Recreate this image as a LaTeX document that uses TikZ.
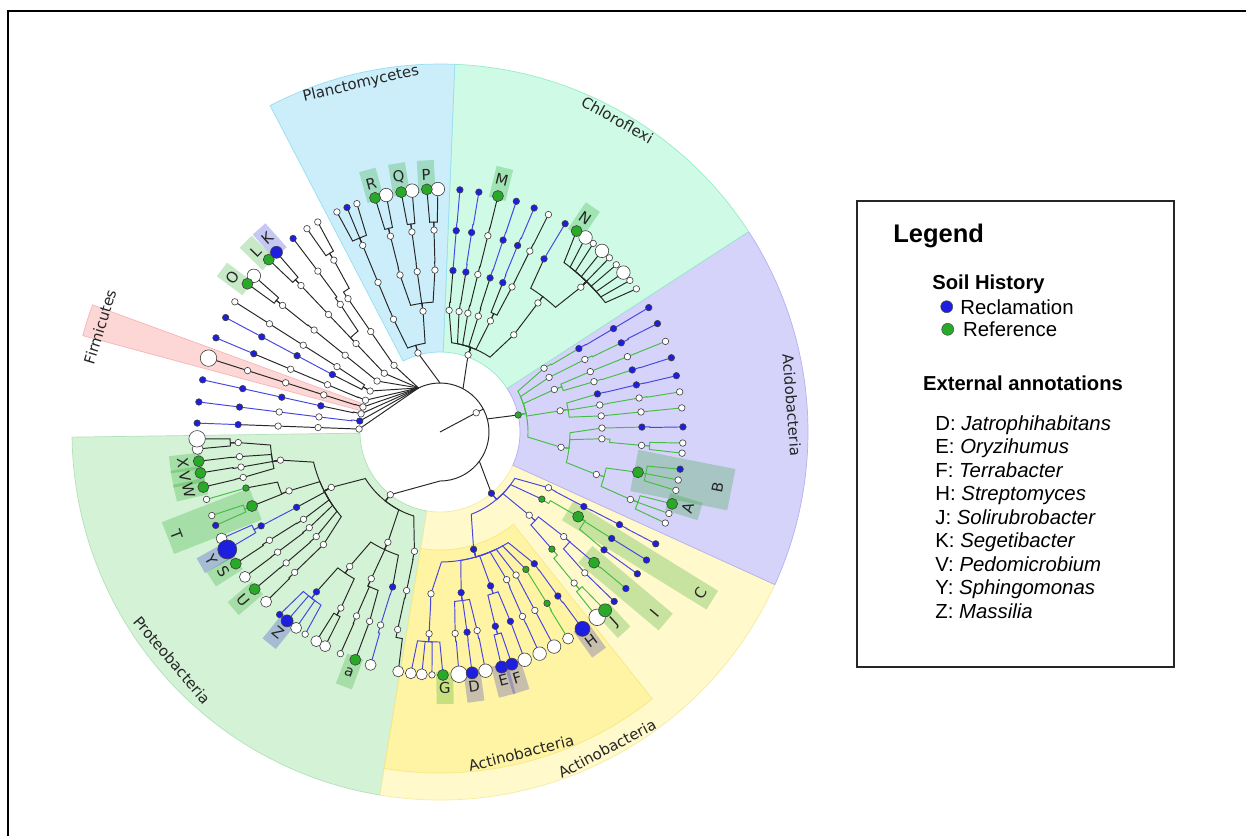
\documentclass[tikz,border=0pt]{standalone}
\usepackage{fontspec}
\setmainfont{Liberation Sans}
\newfontfamily\treefont{DejaVu Sans}

\definecolor{planc}{RGB}{204,238,251}
\definecolor{plancd}{RGB}{150,222,242}
\definecolor{chlor}{RGB}{206,250,230}
\definecolor{chlord}{RGB}{150,236,205}
\definecolor{acido}{RGB}{214,211,250}
\definecolor{acidod}{RGB}{180,176,242}
\definecolor{actout}{RGB}{255,249,204}
\definecolor{actoutd}{RGB}{246,236,160}
\definecolor{actin}{RGB}{255,244,163}
\definecolor{actind}{RGB}{246,232,130}
\definecolor{prot}{RGB}{212,242,214}
\definecolor{protd}{RGB}{178,226,184}
\definecolor{firm}{RGB}{253,214,214}
\definecolor{firmd}{RGB}{246,182,182}
\definecolor{mblue}{RGB}{30,30,225}
\definecolor{mgreen}{RGB}{40,170,40}
\definecolor{lblue}{RGB}{70,70,225}
\definecolor{lgreen}{RGB}{70,190,70}

% annular wedge: start angle, end angle, inner r, outer r, style
\newcommand{\sector}[5]{\path[#5] (#1:#3) arc[start angle=#1, end angle=#2, radius=#3]
  -- (#2:#4) arc[start angle=#2, end angle=#1, radius=#4] -- cycle;}
% branch: parent angle, parent r, child angle, child r, style
\newcommand{\edge}[5]{\draw[#5] (#1:#2) -- (#1:{#2+8})
  arc[start angle={#1}, end angle={#1+0.8*((#3)-(#1))}, radius={#2+8}] -- (#3:#4);}
% annotation strip: angle, r from, r to, half width, style
\newcommand{\tagbox}[5]{\begin{scope}[rotate=#1]\path[#5] (#2,-#4) rectangle (#3,#4);\end{scope}}

\begin{document}
\begin{tikzpicture}[x=0.02cm, y=-0.02cm,
    kline/.style={draw=black!85, line width=0.55pt},
    bline/.style={draw=lblue, line width=0.55pt},
    gline/.style={draw=lgreen, line width=0.55pt},
    wn/.style={circle, draw=black!75, fill=white, line width=0.35pt, inner sep=0pt, minimum size=0.13cm},
    bn/.style={wn, fill=mblue},
    gn/.style={wn, fill=mgreen},
    Wm/.style={wn, minimum size=0.22cm},
    Wb/.style={wn, minimum size=0.27cm},
    WL/.style={wn, minimum size=0.33cm},
    Gb/.style={gn, minimum size=0.22cm},
    GL/.style={gn, minimum size=0.26cm},
    Bb/.style={bn, minimum size=0.24cm},
    BL/.style={bn, minimum size=0.30cm},
    BY/.style={bn, minimum size=0.38cm},
    gbox/.style={fill=green!60!black, fill opacity=0.22},
    bbox/.style={fill=blue!80!black, fill opacity=0.22},
    tag/.style={font=\treefont\fontsize{8.5}{10}\selectfont, inner sep=0pt, text=black!85},
    clade/.style={font=\treefont\fontsize{8.5}{10}\selectfont, inner sep=0pt, text=black!85},
    legtitle/.style={font=\fontsize{14.5}{17}\selectfont\bfseries, inner sep=0pt, anchor=base west},
    leghead/.style={font=\fontsize{11.5}{14}\selectfont\bfseries, inner sep=0pt, anchor=base west},
    legitem/.style={font=\fontsize{11.6}{14}\selectfont, inner sep=0pt, anchor=base west},
    legdot/.style={circle, draw=black!70, line width=0.3pt, inner sep=0pt, minimum size=0.24cm}
]
\useasboundingbox (0,0) rectangle (1246,836);

% page frame
\draw[line width=1.1pt] (8,836) -- (8,11) -- (1246,11);

\begin{scope}[shift={(440,432)}, y=0.02cm]

% clade backgrounds
\sector{180.8}{260.6}{80}{368}{fill=prot, draw=protd}
\sector{-99.4}{-24.5}{80}{368}{fill=actout, draw=actoutd}
\sector{-99.4}{-51.5}{118}{341}{fill=actin, draw=actind}
\sector{-24.5}{33}{80}{368}{fill=acido, draw=acidod}
\sector{33}{87.7}{80}{368}{fill=chlor, draw=chlord}
\sector{87.7}{117.5}{80}{368}{fill=planc, draw=plancd}
\sector{159.9}{164.9}{80}{370}{fill=firm, draw=firmd}

% external annotation strips
\foreach \a/\ra/\rb/\hw/\rl/\t in {105.5/240/272/8.5/258/R, 99.2/240/272/8.5/258/Q, 93.1/240/272/8.5/258/P,
    76.2/240/272/8.5/260/M, 55.8/240/272/8.5/258/N, 135.6/240/272/8.5/258/L, 143.3/240/272/8.5/259/O,
    186.9/240/272/8.5/259/X, 190/240/272/8.5/259/V, 193/240/272/8.5/258/W, 201.3/198/292/17/283/T,
    212.8/240/272/8.5/258/S, 220.5/240/272/8.5/259/U, 249.3/240/272/8.5/257/a, -88.9/240/272/8.5/256/G,
    -47.4/240/272/8.5/258/J, -40.1/190/295/11/281/I, -31.7/150/320/11/306/C, -17/238/272/9/259/A,
    -11.2/198/297/21/283/B} {
  \tagbox{\a}{\ra}{\rb}{\hw}{gbox}
  \pgfmathsetmacro\rot{ifthenelse(sin(\a)>0,\a-90,\a+90)}
  \node[tag, rotate=\rot] (tag\t) at (\a:\rl) {\t};
}
\foreach \a/\ra/\rb/\hw/\rl/\t in {131.7/240/272/8.5/260/K, 209.2/240/274/8.5/262/Y, 231.1/240/272/8.5/258/Z,
    -82.4/240/272/8.5/257/D, -75.7/240/272/8.5/256/E, -72.6/240/272/8.5/258/F, -54.2/240/272/8.5/258/H} {
  \tagbox{\a}{\ra}{\rb}{\hw}{bbox}
  \pgfmathsetmacro\rot{ifthenelse(sin(\a)>0,\a-90,\a+90)}
  \node[tag, rotate=\rot] (tag\t) at (\a:\rl) {\t};
}

% backbone
\draw[kline] (0,0) -- (28:49);
\draw[kline] (116:49) arc[start angle=116, end angle=-90, radius=49] -- (231.6:80);
\draw[kline] (90:49) -- (105.6:82);
\draw[kline] (62:49) -- (70:82);
\draw[kline] (15.5:49) -- (12.3:80);
\draw[kline] (-36.6:49) -- (-50:80);
\foreach \b in {124.6,133.5,141,149.6,156.9,162,167,172.2,177.9}
  \draw[kline] (116:49) -- (\b:81);

% black branches
\foreach \pa/\pr/\ca/\cr in {
  105.6/82/112.4/122, 105.6/82/98/122, 112.4/122/112.5/162, 112.5/162/112.5/202, 112.5/202/115.1/243,
  112.5/202/112.5/243, 112.5/202/110/243, 98/122/104.3/162, 98/122/98.1/162, 98/122/91.8/162,
  104.3/162/104.2/202, 104.2/202/105.5/243, 104.2/202/102.8/243, 98.1/162/98/202, 98/202/99.2/243,
  98/202/96.6/243, 91.8/162/91.7/202, 91.7/202/93.1/243, 91.7/202/90.5/243,
  70/82/85.7/122, 70/82/81/122, 70/82/76.8/122, 70/82/71.7/122, 70/82/65.6/122, 70/82/52.8/122,
  85.7/122/85.4/162, 81/122/80.8/162, 76.8/122/76.5/162, 76.5/162/76.3/202, 76.3/202/76.2/243,
  71.7/122/72/162, 65.6/122/67.2/162, 65.6/122/63.6/162, 63.6/162/63.6/202, 63.6/202/63.5/243,
  52.8/122/52.8/162, 52.8/162/59/202, 52.8/162/45.8/202, 45.8/202/55.8/243, 45.8/202/53.2/243,
  45.8/202/50.9/243, 45.8/202/48.2/243, 45.8/202/45.8/243, 45.8/202/43.5/243, 45.8/202/41/243,
  45.8/202/38.6/243, 45.8/202/36.1/243,
  231.6/80/207/122, 231.6/80/244.7/122, 231.6/80/257.9/122, 207/122/190/162, 207/122/201.3/162,
  207/122/207.7/162, 207/122/212.6/162, 207/122/216.2/162, 207/122/220.2/162, 207/122/224/162,
  190/162/183/202, 190/162/187/202, 190/162/190/202, 190/162/193/202, 183/202/181.6/243,
  183/202/184/243, 187/202/186.9/243, 190/202/189.7/243, 193/202/193.1/243, 201.3/162/196.1/202,
  201.3/162/201.5/202, 212.6/162/212.4/202, 212.4/202/212.8/243, 216.2/162/216.5/202,
  216.5/202/216.6/243, 220.2/162/220.4/202, 220.4/202/220.3/243, 224/162/224/202, 224/202/224.3/243,
  244.7/122/236.1/162, 244.7/122/244.9/162, 244.7/122/253/162, 236.1/162/232.3/202,
  236.1/162/240.6/202, 240.6/202/239.4/243, 240.6/202/241.8/243, 244.9/162/245.6/202,
  244.9/162/249.6/202, 245.6/202/245.8/243, 249.6/202/249.6/243, 257.9/122/258.1/162,
  258.1/162/257.9/202, 257.9/202/260.1/243,
  124.6/81/124.6/122, 124.6/122/124.6/162, 124.6/162/121.7/202, 121.7/202/120.2/243,
  121.7/202/123.2/243, 133.5/81/133.5/122, 133.5/122/128/162, 133.5/122/133.5/162, 128/162/127.2/202,
  127.2/202/127.2/243, 133.5/162/133.5/202, 133.5/202/132.3/243, 133.5/202/134.8/243,
  141/81/141/122, 141/122/141/162, 141/162/141.2/202, 141.2/202/140/243, 141.2/202/142.4/243,
  149.6/81/147.6/122, 149.6/81/151.9/122, 147.6/122/147.6/162, 147.6/162/147.6/202,
  147.6/202/147.6/243, 156.9/81/157.2/122, 157.2/122/157.2/162, 157.2/162/157.2/202,
  162/81/162.3/122, 162.3/122/162.3/162, 162.3/162/162.3/202, 162.3/202/162.3/243,
  167/81/167.6/122, 177.9/81/177.9/122, 177.9/122/177.9/162, 177.9/162/177.9/202}
  {\edge{\pa}{\pr}{\ca}{\cr}{kline}}

% blue branches
\foreach \pa/\pr/\ca/\cr in {
  85.4/162/85.4/202, 85.4/202/85.3/243, 80.8/162/81/202, 81/202/80.8/243, 72/162/71.8/202,
  71.8/202/71.7/243, 67.2/162/67.4/202, 67.4/202/67.2/243, 59/202/59/243,
  31/162/30.8/202, 30.8/202/30.8/243, 26.2/202/26.5/243, 17.9/202/17.8/243, 13.6/162/13.5/202,
  13.5/202/13.4/243, 1.4/202/1.2/243,
  -50/80/-74/122, -50/80/-43/122, -50/80/-33.4/122, -50/80/-27.2/122, -27.2/122/-27.4/162,
  -27.4/162/-27.3/202, -27.3/202/-27.4/243, -43/122/-40.2/162, -43/122/-46.3/162,
  -40.2/162/-40.3/202, -40.2/162/-44.2/202, -44.2/202/-44.2/243, -31.8/202/-31.8/243,
  -35.7/202/-35.7/243, -74/122/-93.2/162, -74/122/-82.5/162, -74/122/-71.8/162, -74/122/-65.7/162,
  -74/122/-62/162, -74/122/-58/162, -74/122/-54.4/162, -93.2/162/-93.1/202, -93.1/202/-96.9/243,
  -93.1/202/-94.3/243, -93.1/202/-91.9/243, -93.1/202/-89.3/243, -82.5/162/-85.7/202,
  -82.5/162/-82.3/202, -82.5/162/-79.4/202, -85.7/202/-85.5/243, -82.3/202/-82.4/243,
  -79.4/202/-79.2/243, -71.8/162/-74.1/202, -71.8/162/-69.6/202, -74.1/202/-75.3/243,
  -74.1/202/-72.8/243, -69.6/202/-69.6/243, -65.7/162/-65.9/202, -65.9/202/-65.8/243,
  -62/162/-62/202, -62/202/-62/243, -54.4/162/-54.3/202, -54.3/202/-54.1/243,
  207.7/162/207.7/202, 207.7/202/206/243, 207.7/202/208.9/243, 232.3/202/228.7/243,
  232.3/202/231/243, 232.3/202/233.7/243, 232.3/202/236.3/243, 253/162/252.9/202,
  252.9/202/253.4/243,
  151.9/122/151.9/162, 151.9/162/151.9/202, 151.9/202/151.9/243, 157.2/202/157.2/243,
  167.6/122/167.6/162, 167.6/162/167.6/202, 167.6/202/167.6/243, 172.2/81/172.9/122,
  172.9/122/172.9/162, 172.9/162/172.9/202, 172.9/202/172.9/243, 177.9/202/177.9/243}
  {\edge{\pa}{\pr}{\ca}{\cr}{bline}}

% green branches
\foreach \pa/\pr/\ca/\cr in {
  12.3/80/31.5/122, 12.3/80/26.6/122, 12.3/80/20.4/122, 12.3/80/10/122, 12.3/80/-7.2/122,
  31.5/122/31/162, 26.6/122/26.6/162, 26.6/162/26.2/202, 20.4/122/21.9/162, 20.4/122/18.1/162,
  21.9/162/21.9/202, 21.9/202/21.9/243, 18.1/162/17.9/202, 10/122/13.6/162, 10/122/9.6/162,
  10/122/5.7/162, 9.6/162/9.7/202, 9.7/202/9.5/243, 5.7/162/5.7/202, 5.7/202/5.7/243,
  -7.2/122/1.4/162, -7.2/122/-2.4/162, -7.2/122/-15.2/162, 1.4/162/1.4/202, -2.4/162/-3.8/202,
  -3.8/202/-2.6/243, -3.8/202/-5/243, -15.2/162/-11.5/202, -15.2/162/-19.5/202,
  -11.5/202/-8.8/243, -11.5/202/-11.4/243, -11.5/202/-13.9/243, -19.5/202/-17.2/243,
  -19.5/202/-19.6/243, -19.5/202/-22/243,
  -33.4/122/-31.5/162, -31.5/162/-31.8/202, -31.5/162/-35.7/202, -40.3/202/-40.1/243,
  -46.3/162/-48.4/202, -48.4/202/-47.2/243, -48.4/202/-49.7/243, -58/162/-58/202,
  -58/202/-58.2/243,
  196.1/202/196.1/243, 201.5/202/200.1/243, 201.5/202/202.6/243}
  {\edge{\pa}{\pr}{\ca}{\cr}{gline}}

% node markers
\foreach \a/\r [count=\i] in {28/41, 105.6/82, 70/82, 231.6/80, 124.6/81, 133.5/81, 141/81, 149.6/81,
  156.9/81, 162/81, 167/81, 177.9/81,
  112.4/122, 112.5/162, 112.5/202, 98/122, 104.3/162, 98.1/162, 91.8/162, 104.2/202, 98/202,
  91.7/202, 115.1/243, 110/243,
  85.7/122, 81/122, 76.8/122, 71.7/122, 65.6/122, 52.8/122, 76.5/162, 63.6/162, 52.8/162,
  76.3/202, 63.6/202, 45.8/202, 63.5/243, 50.9/243, 45.8/243, 43.5/243, 38.6/243, 36.1/243,
  31.5/122, 26.6/122, 20.4/122, 10/122, -7.2/122, 26.6/162, 21.9/162, 18.1/162, 9.6/162, 5.7/162,
  1.4/162, -2.4/162, -15.2/162, 21.9/202, 9.7/202, 5.7/202, -3.8/202, -19.5/202, 21.9/243,
  9.5/243, 5.7/243, -2.6/243, -5/243, -11.4/243, -13.9/243, -19.6/243, -22/243,
  -43/122, -27.2/122, -40.2/162, -44.2/202, -48.4/202, -93.2/162, -93.1/202, -85.7/202,
  -79.4/202, -65.7/162, -65.9/202, -62/162, -62/202, -91.9/243,
  207/122, 244.7/122, 257.9/122, 190/162, 201.3/162, 212.6/162, 216.2/162, 220.2/162, 224/162,
  236.1/162, 244.9/162, 258.1/162, 183/202, 187/202, 190/202, 193/202, 212.4/202, 216.5/202,
  220.4/202, 224/202, 240.6/202, 245.6/202, 249.6/202, 252.9/202, 257.9/202, 196.1/243,
  200.1/243, 236.3/243, 245.8/243,
  124.6/122, 124.6/162, 121.7/202, 133.5/122, 128/162, 127.2/202, 133.5/162, 133.5/202, 141/122,
  141/162, 141.2/202, 147.6/122, 147.6/162, 147.6/202, 157.2/122, 157.2/162, 162.3/122,
  162.3/162, 162.3/202, 172.9/122, 172.9/162, 177.9/122, 177.9/162, 120.2/243, 123.2/243,
  147.6/243}
  {\node[wn] (w\i) at (\a:\r) {};}
\foreach \a/\r [count=\i] in {-50/80, 172.2/81, 112.5/243,
  85.4/162, 85.4/202, 80.8/162, 81/202, 72/162, 71.8/202, 67.2/162, 67.4/202, 59/202, 85.3/243,
  80.8/243, 71.7/243, 67.2/243, 59/243,
  31/162, 30.8/202, 26.2/202, 17.9/202, 13.6/162, 13.5/202, 1.4/202, 30.8/243, 26.5/243,
  17.8/243, 13.4/243, 1.2/243, -8.8/243,
  -74/122, -27.4/162, -27.3/202, -35.7/202, -31.8/202, -82.5/162, -82.3/202, -71.8/162,
  -74.1/202, -69.6/202, -54.4/162, -54.3/202, -27.4/243, -31.8/243, -35.7/243, -40.1/243,
  -44.2/243,
  207.7/162, 207.7/202, 232.3/202, 253/162, 202.6/243, 228.7/243,
  151.9/122, 151.9/162, 151.9/202, 157.2/202, 167.6/122, 167.6/162, 167.6/202, 172.9/202,
  177.9/202, 127.2/243, 151.9/243, 157.2/243, 167.6/243, 172.9/243, 177.9/243}
  {\node[bn] (b\i) at (\a:\r) {};}
\foreach \a/\r [count=\i] in {12.3/80, -33.4/122, -46.3/162, -58/162, -58/202, 196.1/202}
  {\node[gn] (g\i) at (\a:\r) {};}
\foreach \a [count=\i] in {-96.9, -94.3, -58.2, 184, 206, 216.6, 224.3, 233.7, 239.4, 241.8, 253.4, 260.1}
  {\node[Wm] (wm\i) at (\a:243) {};}
\foreach \a [count=\i] in {102.8, 96.6, 90.5, 53.2, 48.2, 41, 140, -79.2, -69.6, -65.8, -62}
  {\node[Wb] (wb\i) at (\a:243) {};}
\foreach \a [count=\i] in {162.3, -85.5, -49.7, 181.6}
  {\node[WL] (wl\i) at (\a:243) {};}
\foreach \a/\r [count=\i] in {105.5/243, 99.2/243, 93.1/243, 76.2/243, 55.8/243, -11.5/202, -17.2/243,
  -31.5/162, -40.3/202, -89.3/243, 134.8/243, 142.4/243, 186.9/243, 189.7/243, 193.1/243,
  201.5/202, 212.8/243, 220.3/243, 249.6/243}
  {\node[Gb] (gb\i) at (\a:\r) {};}
\node[GL] (gl1) at (-47.2:243) {};
\foreach \a [count=\i] in {132.3, -82.4, -75.3, -72.8, 231}
  {\node[Bb] (bb\i) at (\a:243) {};}
\node[BL] (bl1) at (-54.1:243) {};
\node[BY] (by1) at (208.9:243) {};

% clade names
\node[clade, rotate=12.8] (lplanc) at (102.8:357) {Planctomycetes};
\node[clade, rotate=-29.6] (lchlor) at (60.4:359) {Chloroflexi};
\node[clade, rotate=-85.6] (lacido) at (4.4:353) {Acidobacteria};
\node[clade, rotate=72.8] (lfirm) at (162.8:356) {Firmicutes};
\node[clade, rotate=-49.6] (lprot) at (220.4:352) {Proteobacteria};
\node[clade, rotate=27.8] (lactout) at (-62.2:358) {Actinobacteria};
\node[clade, rotate=14.2] (lactin) at (-75.8:331) {Actinobacteria};
\end{scope}

% legend
\draw[line width=0.8pt, draw=black!85] (857,201) rectangle (1174,667);
\node[legtitle] (legend) at (893,242) {Legend};
\node[leghead] (soil) at (932,289) {Soil History};
\node[legdot, fill=mblue] (dotrecl) at (946.7,306.7) {};
\node[legitem] (recl) at (960,314) {Reclamation};
\node[legdot, fill=mgreen] (dotref) at (947.7,329.3) {};
\node[legitem] (refr) at (962.7,336) {Reference};
\node[leghead] (extann) at (922.7,390.7) {External annotations};
\foreach \l/\g [count=\i] in {D/Jatrophihabitans, E/Oryzihumus, F/Terrabacter, H/Streptomyces,
    J/Solirubrobacter, K/Segetibacter, V/Pedomicrobium, Y/Sphingomonas, Z/Massilia}
  {\node[legitem] (ann\i) at (935,{430+23.5*(\i-1)}) {\l: \textit{\g}};}
\end{tikzpicture}
\end{document}
